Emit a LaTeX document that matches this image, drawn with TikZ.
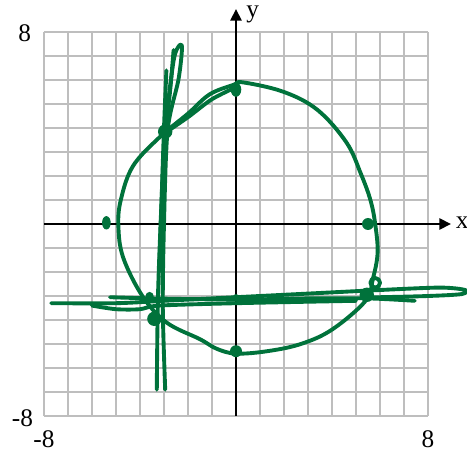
\documentclass[tikz,border=0pt]{standalone}
\usepackage{fontspec}
\setmainfont{Liberation Serif}
\usepackage{xcolor}
\usepackage{tikz}
\usetikzlibrary{arrows.meta}
\definecolor{penGreen}{RGB}{0,114,59}
\definecolor{gridGray}{RGB}{190,190,190}

\begin{document}
\begin{tikzpicture}[
  x=0.5cm, y=0.5cm,
  gridline/.style={draw=gridGray, line width=1.4pt},
  axis/.style={-{Triangle[length=2.4mm, width=2.4mm]}, line width=0.9pt},
  pen/.style={draw=penGreen, line width=2.3pt, line cap=round, line join=round},
  blot/.style={fill=penGreen},
  lbl/.style={font=\fontsize{15}{17}\selectfont, inner sep=0pt},
]
\useasboundingbox (-9.833,-9.542) rectangle (9.625,9.333);
\draw[gridline, step=1] (-8,-8) grid (8,8);
\draw[axis] (0,-8) -- (0,8.95);
\draw[axis] (-8,0) -- (8.95,0);
\node[lbl] (ylbl) at (0.7,8.72) {y};
\node[lbl] (xlbl) at (9.42,0.05) {x};
\node[lbl] (ymax) at (-8.8,7.95) {8};
\node[lbl] (ymin) at (-8.9,-8.1) {-8};
\node[lbl] (xmin) at (-8.0,-8.95) {-8};
\node[lbl] (xmax) at (8.0,-8.95) {8};
% closed curve
\draw[pen] plot[smooth cycle, tension=0.6] coordinates {
  (0.3,5.9) (2,5.5) (3.4,4.75) (4.6,3.4) (5.2,2.1) (5.6,1) (5.8,0)
  (5.9,-1.2) (5.7,-2.3) (5.4,-3.2) (4.0,-4.4) (2.7,-5) (1.3,-5.3)
  (0,-5.4) (-0.8,-5.2) (-1.5,-4.8) (-2.9,-4.1) (-3.9,-3.0) (-4.7,-1.4)
  (-4.9,-0.1) (-4.8,1) (-4.3,2.4) (-3.2,3.6) (-2.0,4.6) (-1.1,5.4) (-0.1,5.8)};
\draw[pen] plot[smooth] coordinates {(-2.95,3.8) (-2.0,4.45) (-1.0,5.2) (0,5.7)};
% vertical strokes
\draw[pen] plot[smooth, tension=0.5] coordinates {
  (-3.3,-6.9) (-3.25,-3) (-3.1,1) (-2.95,3.9) (-2.6,6.8) (-2.35,7.45)
  (-2.25,7.3) (-2.4,6) (-2.85,3.9) (-3.0,0) (-3.05,-3.5) (-2.95,-6.9)};
\draw[pen] plot[smooth] coordinates {(-2.9,6.4) (-3.0,4) (-3.1,1) (-3.2,-2)};
\draw[pen] plot[smooth] coordinates {(-2.6,7.25) (-2.75,5.5) (-2.95,3.9)};
% horizontal strokes
\draw[pen] plot[smooth, tension=0.5] coordinates {
  (-7.7,-3.3) (-5,-3.3) (-3,-3.2) (0,-3.05) (3,-2.9) (6,-2.75)
  (8.5,-2.65) (9.55,-2.75) (9.4,-2.92) (8,-3.0) (6,-3.05) (5.4,-3.05)};
\draw[pen] plot[smooth] coordinates {
  (-5.25,-3.05) (-3.5,-3.1) (0,-3.15) (3,-3.1) (5.5,-3.1) (7.45,-3.2)};
\draw[pen] plot[smooth] coordinates {
  (-6,-3.4) (-5,-3.55) (-4,-3.55) (-3.2,-3.4) (0,-3.3) (5,-3.2)};
\draw[pen] (5.8,-2.45) circle[radius=0.2];
% dots
\fill[blot] (-5.4,0.05) ellipse[x radius=0.18, y radius=0.28];
\fill[blot] (5.5,0) circle[radius=0.25];
\fill[blot] (0,5.6) ellipse[x radius=0.22, y radius=0.3];
\fill[blot] (-2.95,3.85) circle[radius=0.3];
\fill[blot] (-3.4,-3.95) circle[radius=0.3];
\fill[blot] (0,-5.3) circle[radius=0.25];
\fill[blot] (5.45,-2.95) circle[radius=0.3];
\fill[blot] (0,-3.05) circle[radius=0.13];
\fill[blot] (-3.6,-3.0) circle[radius=0.17];
\end{tikzpicture}
\end{document}
